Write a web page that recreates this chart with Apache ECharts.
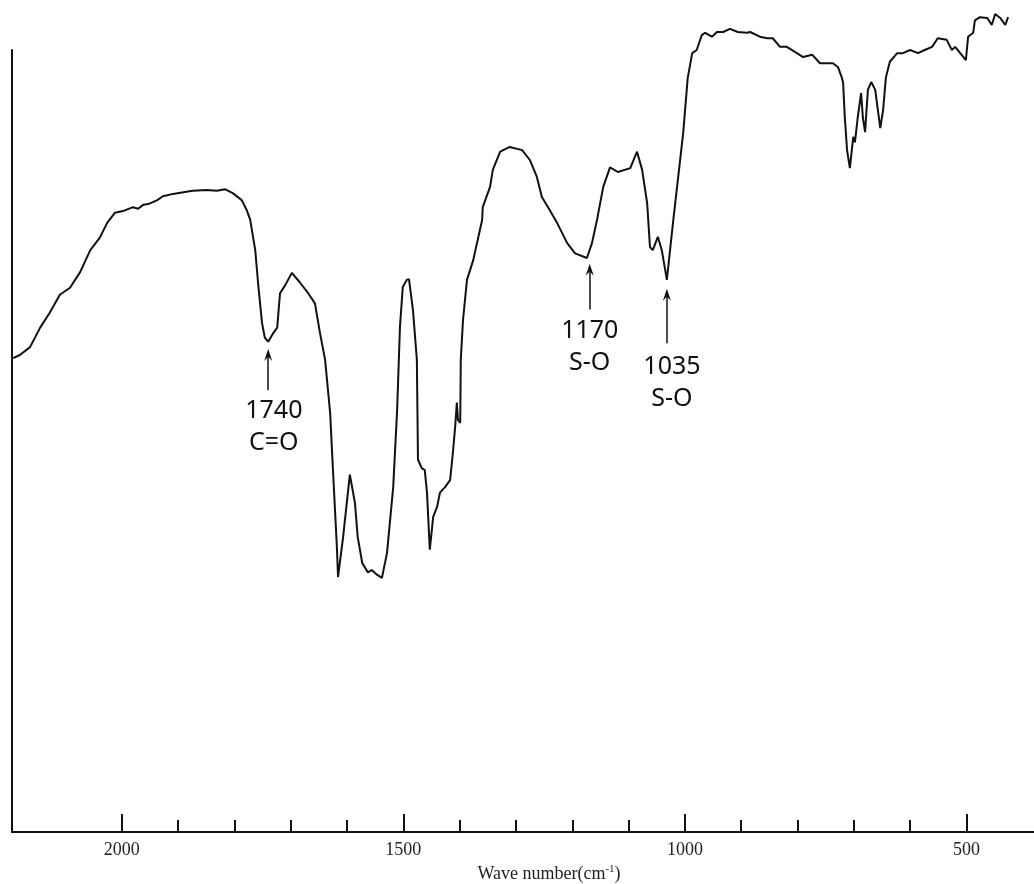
<!DOCTYPE html>
<html>
<head>
<meta charset="utf-8">
<script src="https://cdn.jsdelivr.net/npm/echarts@6/dist/echarts.min.js"></script>
<style>
  html, body { margin: 0; padding: 0; background: #fff; }
  #ir-chart { width: 1034px; height: 884px; }
</style>
</head>
<body>
<div id="ir-chart"></div>
<script>
// wave number (cm-1)
const waveNumbers = [
  2193, 2181, 2163, 2145, 2128, 2110, 2092, 2074, 2056, 2039, 2026, 2012,
  1998, 1980, 1971, 1962, 1953, 1937, 1927, 1909, 1891, 1874, 1849, 1831,
  1817, 1803, 1787, 1778, 1772, 1767, 1763, 1758, 1751, 1746, 1740, 1731,
  1724, 1719, 1710, 1698, 1684, 1669, 1657, 1648, 1639, 1630, 1625, 1618,
  1616, 1607, 1595, 1586, 1581, 1573, 1563, 1556, 1547, 1538, 1529, 1518,
  1511, 1506, 1501, 1494, 1490, 1483, 1476, 1474, 1467, 1462, 1458, 1453,
  1447, 1440, 1435, 1426, 1417, 1412, 1408, 1405, 1403, 1399, 1398, 1394,
  1387, 1376, 1360, 1359, 1346, 1341, 1328, 1311, 1289, 1275, 1263, 1254,
  1243, 1227, 1209, 1195, 1174, 1165, 1156, 1145, 1133, 1119, 1097, 1085,
  1076, 1067, 1062, 1057, 1048, 1041, 1032, 1021, 1003, 995, 987, 979,
  970, 964, 952, 943, 932, 920, 906, 890, 884, 867, 854, 844,
  831, 819, 801, 790, 774, 760, 748, 737, 728, 721, 719, 716,
  712, 707, 701, 698, 693, 687, 684, 680, 675, 669, 662, 653,
  648, 643, 636, 623, 613, 600, 586, 574, 561, 551, 535, 526,
  520, 511, 501, 497, 488, 485, 476, 463, 455, 449, 440, 431,
  426
]
// transmittance (%), same order
const transmittance = [
  60.6, 61.0, 62.0, 64.5, 66.4, 68.7, 69.6, 71.6, 74.4, 76.0, 77.9, 79.2,
  79.4, 79.9, 79.7, 80.2, 80.3, 80.8, 81.3, 81.6, 81.8, 82.0, 82.1, 82.0,
  82.2, 81.7, 80.8, 79.5, 78.3, 76.1, 74.4, 70.2, 65.1, 63.2, 62.7, 63.8,
  64.5, 68.9, 69.9, 71.5, 70.3, 68.9, 67.6, 63.8, 60.4, 53.6, 46.3, 36.4,
  32.6, 37.7, 45.7, 42.1, 37.7, 34.4, 33.2, 33.5, 32.9, 32.5, 35.7, 44.1,
  54.0, 64.6, 69.7, 70.6, 70.7, 66.8, 60.4, 47.6, 46.5, 46.3, 43.4, 36.1,
  40.3, 41.6, 43.4, 44.1, 45.0, 48.5, 51.8, 54.9, 52.7, 52.3, 60.4, 65.5,
  70.6, 73.1, 78.3, 79.9, 82.5, 84.7, 87.0, 87.6, 87.2, 85.9, 83.8, 81.2,
  79.9, 77.9, 75.3, 74.0, 73.4, 75.3, 78.3, 82.5, 85.0, 84.4, 84.9, 87.0,
  84.7, 80.4, 74.8, 74.4, 76.1, 74.4, 70.6, 78.0, 89.4, 96.4, 99.6, 100.0,
  101.9, 102.2, 101.7, 102.3, 102.3, 102.7, 102.3, 102.2, 102.3, 101.7, 101.5, 101.5,
  100.4, 100.4, 99.6, 99.1, 99.4, 98.3, 98.3, 98.3, 97.8, 96.4, 95.8, 91.4,
  87.2, 84.9, 88.9, 88.2, 91.4, 94.5, 91.4, 89.5, 94.9, 95.9, 94.9, 90.0,
  92.3, 96.5, 98.5, 99.6, 99.6, 100.0, 99.6, 100.0, 100.4, 101.5, 101.3, 100.0,
  100.4, 99.6, 98.7, 101.7, 102.2, 103.8, 104.2, 104.1, 103.2, 104.6, 104.1, 103.2,
  104.2
]

const majorTicks = [2000, 1500, 1000, 500]
const minorTicks = [1900, 1800, 1700, 1600, 1400, 1300, 1200, 1100, 900, 800, 700, 600]

// band assignments: arrow from / to (transmittance), label position
const bandWave = [1740, 1169, 1032]
const bandLabels = ['1740\nC=O', '1170\nS-O', '1035\nS-O']
const arrowFrom = [56.5, 66.8, 62.5]
const arrowTo = [61.0, 71.9, 68.7]
const labelWave = [1730, 1169, 1023]
const labelT = [51.8, 62.1, 57.4]

const chart = echarts.init(document.getElementById('ir-chart'))

const xBase = {
  type: 'value',
  min: 380,
  max: 2195,
  inverse: true,
  position: 'bottom',
  splitLine: { show: false }
}

const option = {
  animation: false,
  grid: { left: 12, right: 0, top: 50, bottom: 52, outerBoundsMode: 'none' },
  xAxis: [
    Object.assign({}, xBase, {
      name: 'Wave number(cm{sup|-1})',
      nameLocation: 'middle',
      nameGap: 32,
      nameTextStyle: {
        fontFamily: 'Liberation Serif',
        fontSize: 18,
        color: '#222',
        padding: [0, 0, 0, 52],
        rich: { sup: { fontSize: 11, padding: [0, 0, 9, 0] } }
      },
      axisLine: { onZero: false, lineStyle: { color: '#111', width: 2 } },
      axisTick: { customValues: majorTicks, inside: true, length: 18, lineStyle: { color: '#111', width: 2 } },
      axisLabel: {
        customValues: majorTicks,
        margin: 9,
        fontFamily: 'Liberation Serif',
        fontSize: 18,
        color: '#222',
        formatter: v => String(v)
      }
    }),
    Object.assign({}, xBase, {
      axisLine: { show: false, onZero: false },
      axisTick: { customValues: minorTicks, inside: true, length: 12, lineStyle: { color: '#111', width: 2 } },
      axisLabel: { show: false }
    })
  ],
  yAxis: {
    type: 'value',
    min: 0,
    max: 100,
    axisLine: { show: true, onZero: false, lineStyle: { color: '#111', width: 2 } },
    axisTick: { show: false },
    axisLabel: { show: false },
    splitLine: { show: false }
  },
  series: [
    {
      type: 'line',
      data: waveNumbers.map((w, i) => [w, transmittance[i]]),
      showSymbol: false,
      clip: false,
      lineStyle: { color: '#111', width: 2 },
      markLine: {
        silent: true,
        symbol: ['none', 'path://M5,0 L10,14 L5,9 L0,14 Z'],
        symbolSize: [8, 12],
        label: { show: false },
        lineStyle: { color: '#111', width: 1.5, type: 'solid' },
        data: bandWave.map((w, i) => [
          { coord: [w, arrowFrom[i]] },
          { coord: [w, arrowTo[i]] }
        ])
      },
      markPoint: {
        silent: true,
        symbol: 'circle',
        symbolSize: 0,
        label: {
          show: true,
          position: 'inside',
          fontFamily: 'Noto Sans',
          fontSize: 25,
          lineHeight: 32,
          color: '#111',
          formatter: p => p.name
        },
        data: bandLabels.map((t, i) => ({ name: t, coord: [labelWave[i], labelT[i]] }))
      }
    }
  ]
}

chart.setOption(option)
</script>
</body>
</html>
